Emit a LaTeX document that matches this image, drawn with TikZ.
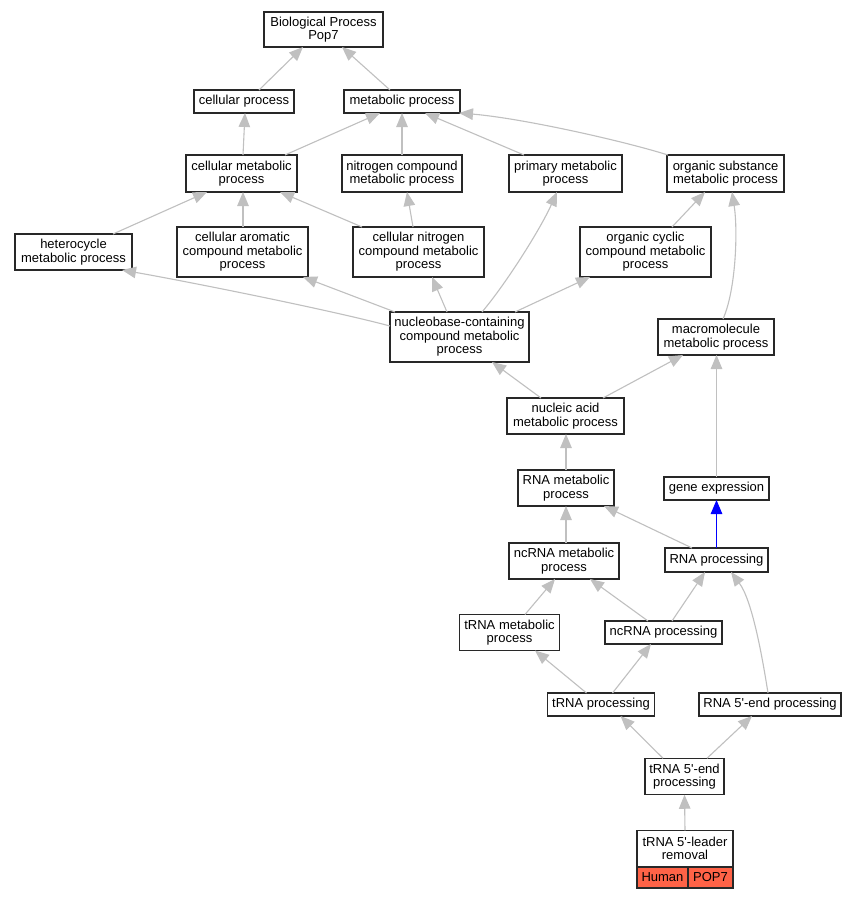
\documentclass[tikz,border=0pt]{standalone}
\usepackage{fontspec}
\setmainfont{Liberation Sans}
\usetikzlibrary{arrows.meta}
\definecolor{edgegray}{RGB}{192,192,192}
\definecolor{boxline}{RGB}{40,40,40}
\definecolor{tomatored}{RGB}{255,99,71}
\begin{document}
\begin{tikzpicture}[x=1pt,y=-1pt,
  box/.style={draw=boxline,line width=1.4pt,rectangle,align=center,inner sep=0pt,outer sep=0pt,font=\fontsize{13}{13.5}\selectfont},
  genebox/.style={box,fill=tomatored},
  isa/.style={draw=edgegray,line width=1.1pt,-{Triangle[length=14pt,width=11.5pt,fill=edgegray]}},
  isablue/.style={draw=blue,line width=1.1pt,-{Triangle[length=14pt,width=11.5pt,fill=blue]}}]
\useasboundingbox[fill=white] (0,0) rectangle (857,899);

\node[box,minimum width=119pt,minimum height=35pt] (bp) at (323.5,29.5) {Biological Process\\Pop7};
\node[box,minimum width=100pt,minimum height=23pt] (cp) at (244,101.5) {cellular process};
\node[box,minimum width=116pt,minimum height=23pt] (mp) at (402,101.5) {metabolic process};
\node[box,minimum width=111pt,minimum height=37pt] (cmp) at (241.5,173.5) {cellular metabolic\\process};
\node[box,minimum width=120pt,minimum height=37pt] (ncmp) at (402,173.5) {nitrogen compound\\metabolic process};
\node[box,minimum width=113pt,minimum height=37pt] (pmp) at (565.5,173.5) {primary metabolic\\process};
\node[box,minimum width=117pt,minimum height=37pt] (osmp) at (725.5,173.5) {organic substance\\metabolic process};
\node[box,minimum width=117pt,minimum height=36pt] (hmp) at (73.5,252) {heterocycle\\metabolic process};
\node[box,minimum width=131pt,minimum height=50pt] (cacmp) at (242.5,252) {cellular aromatic\\compound metabolic\\process};
\node[box,minimum width=131pt,minimum height=50pt] (cncmp) at (418.5,252) {cellular nitrogen\\compound metabolic\\process};
\node[box,minimum width=131pt,minimum height=50pt] (occmp) at (645.5,252) {organic cyclic\\compound metabolic\\process};
\node[box,minimum width=139pt,minimum height=50pt] (nbcmp) at (459.5,337) {nucleobase-containing\\compound metabolic\\process};
\node[box,minimum width=116pt,minimum height=36pt] (mmp) at (716,337) {macromolecule\\metabolic process};
\node[box,minimum width=117pt,minimum height=36pt] (namp) at (565.5,416) {nucleic acid\\metabolic process};
\node[box,minimum width=96pt,minimum height=36pt] (rmp) at (566,488) {RNA metabolic\\process};
\node[box,minimum width=105pt,minimum height=23pt] (ge) at (716.5,488.5) {gene expression};
\node[box,minimum width=110pt,minimum height=36pt] (ncmp2) at (564,561) {ncRNA metabolic\\process};
\node[box,minimum width=103pt,minimum height=24pt] (rp) at (716.5,560) {RNA processing};
\node[box,minimum width=100pt,minimum height=36pt] (tmp) at (509.5,632.5) {tRNA metabolic\\process};
\node[box,minimum width=117pt,minimum height=23pt] (ncp) at (663.5,632.5) {ncRNA processing};
\node[box,minimum width=107pt,minimum height=23pt] (tp) at (601,704.5) {tRNA processing};
\node[box,minimum width=142pt,minimum height=23pt] (r5p) at (770,704.5) {RNA 5\textquotesingle-end processing};
\node[box,minimum width=79pt,minimum height=36.5pt] (t5p) at (684.5,776.5) {tRNA 5\textquotesingle-end\\processing};
\node[box,minimum width=96pt,minimum height=36.5pt] (t5lr) at (685,848.5) {tRNA 5\textquotesingle-leader\\removal};
\node[genebox,minimum width=51pt,minimum height=21pt] (hum) at (662.5,877.5) {Human};
\node[genebox,minimum width=45pt,minimum height=21pt] (pop) at (710.5,877.5) {POP7};

\draw[isa] ([xshift=15pt]cp.north) -- ([xshift=-20.5pt]bp.south);
\draw[isa] ([xshift=-12pt]mp.north) -- ([xshift=18.5pt]bp.south);
\draw[isa] ([xshift=1.5pt]cmp.north) -- ([xshift=1pt]cp.south);
\draw[isa] ([xshift=43.5pt]cmp.north) -- ([xshift=-22pt]mp.south);
\draw[isa] (ncmp.north) -- (mp.south);
\draw[isa] ([xshift=-41.5pt]pmp.north) -- ([xshift=23pt]mp.south);
\draw[isa] ([xshift=-57.5pt]osmp.north) .. controls (620,140) and (520,118) .. ([xshift=57pt]mp.south);
\draw[isa] ([xshift=39.5pt]hmp.north) -- ([xshift=-34.5pt]cmp.south);
\draw[isa] ([xshift=0.5pt]cacmp.north) -- ([xshift=1.5pt]cmp.south);
\draw[isa] ([xshift=-56.5pt]cncmp.north) -- ([xshift=38.5pt]cmp.south);
\draw[isa] ([xshift=-5.5pt]cncmp.north) -- ([xshift=5pt]ncmp.south);
\draw[isa] ([yshift=11pt]nbcmp.west) .. controls (330,310) and (190,282) .. ([xshift=48.5pt]hmp.south);
\draw[isa] ([xshift=-64.5pt]nbcmp.north) -- ([xshift=60.5pt]cacmp.south);
\draw[isa] ([xshift=-12.5pt]nbcmp.north) -- ([xshift=13.5pt]cncmp.south);
\draw[isa] ([xshift=22.5pt]nbcmp.north) .. controls (505,285) and (540,230) .. ([xshift=-8.5pt]pmp.south);
\draw[isa] ([xshift=55.5pt]nbcmp.north) -- ([xshift=-55.5pt]occmp.south);
\draw[isa] ([xshift=26.5pt]occmp.north) -- ([xshift=-20.5pt]osmp.south);
\draw[isa] ([xshift=7pt]mmp.north) .. controls (736,290) and (738,230) .. ([xshift=6.5pt]osmp.south);
\draw[isa] ([xshift=-24.5pt]namp.north) -- ([xshift=32.5pt]nbcmp.south);
\draw[isa] ([xshift=37.5pt]namp.north) -- ([xshift=-33pt]mmp.south);
\draw[isa] (rmp.north) -- (rmp.north |- namp.south);
\draw[isa] (ge.north) -- (ge.north |- mmp.south);
\draw[isa] ([xshift=2pt]ncmp2.north) -- (rmp.south);
\draw[isa] ([xshift=-24.5pt]rp.north) -- ([xshift=38pt]rmp.south);
\draw[isablue] (rp.north) -- (ge.south);
\draw[isa] ([xshift=15.5pt]tmp.north) -- ([xshift=-9pt]ncmp2.south);
\draw[isa] ([xshift=-15.5pt]ncp.north) -- ([xshift=26pt]ncmp2.south);
\draw[isa] ([xshift=8.5pt]ncp.north) -- ([xshift=-11.5pt]rp.south);
\draw[isa] ([xshift=-14.5pt]tp.north) -- ([xshift=25.5pt]tmp.south);
\draw[isa] ([xshift=11.5pt]tp.north) -- ([xshift=-12.5pt]ncp.south);
\draw[isa] ([xshift=-2pt]r5p.north) .. controls (762,655) and (752,600) .. ([xshift=14.5pt]rp.south);
\draw[isa] ([xshift=-21.5pt]t5p.north) -- ([xshift=19.5pt]tp.south);
\draw[isa] ([xshift=22.5pt]t5p.north) -- ([xshift=-18pt]r5p.south);
\draw[isa] (t5lr.north) -- (t5p.south);
\end{tikzpicture}
\end{document}
